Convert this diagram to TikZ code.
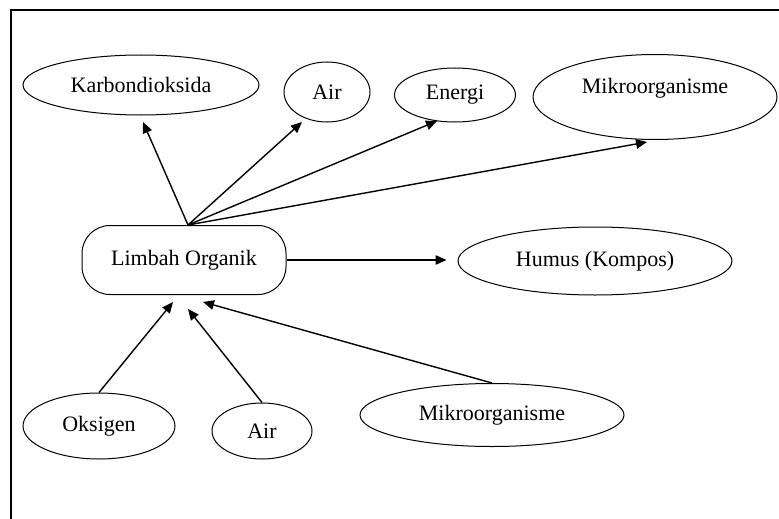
\documentclass[tikz,border=0pt]{standalone}
\usepackage{fontspec}
\setmainfont{Liberation Serif}
\usetikzlibrary{shapes.geometric,arrows.meta}
\begin{document}
\begin{tikzpicture}[x=1pt,y=-1pt,
  font=\fontsize{22}{26}\selectfont,
  ell/.style={draw,ellipse,inner sep=0pt,line width=1pt},
  box/.style={draw,rounded corners=28pt,line width=1pt,minimum width=204pt,minimum height=69pt},
  arr/.style={line width=1.4pt,-{Triangle[length=11pt,width=9.5pt]}}]
\useasboundingbox (0,0) rectangle (779,519);
\draw[line width=1.3pt] (11,10) rectangle (800,540);
% nodes
\node[ell,minimum width=236pt,minimum height=60pt] (karbon) at (141,85) {Karbondioksida};
\node[ell,minimum width=86pt,minimum height=60pt] (airA) at (327,92) {Air};
\node[ell,minimum width=121pt,minimum height=54pt] (energi) at (455,95) {Energi};
\node[ell,minimum width=244pt,minimum height=85pt] (mikroA) at (655,97) {};
\node (mikroAtext) at (655,88) {Mikroorganisme};
\node[box] (limbah) at (184,260) {Limbah Organik};
\node[ell,minimum width=274pt,minimum height=68pt] (humus) at (595,261) {Humus (Kompos)};
\node[ell,minimum width=152pt,minimum height=66pt] (oksigen) at (99,426) {Oksigen};
\node[ell,minimum width=100pt,minimum height=56pt] (airB) at (262,431) {Air};
\node[ell,minimum width=264pt,minimum height=63pt] (mikroB) at (492,415) {Mikroorganisme};
% arrow end points
\coordinate (src) at ([xshift=4pt]limbah.north);
\coordinate (tK) at (143,122);
\coordinate (tA) at (302,122);
\coordinate (tE) at (437,121);
\coordinate (tM) at (647,142);
\coordinate (tO) at (173,302);
\coordinate (tAB) at (188,309);
\coordinate (tMB) at (203,302);
% connectors
\draw[arr] (src) -- (tK);
\draw[arr] (src) -- (tA);
\draw[arr] (src) -- (tE);
\draw[arr] (src) -- (tM);
\draw[arr,shorten >=11pt] (limbah.east) -- (limbah.east -| humus.west);
\draw[arr] (oksigen.north) -- (tO);
\draw[arr] (airB.north) -- (tAB);
\draw[arr] (mikroB.north) -- (tMB);
\end{tikzpicture}
\end{document}
